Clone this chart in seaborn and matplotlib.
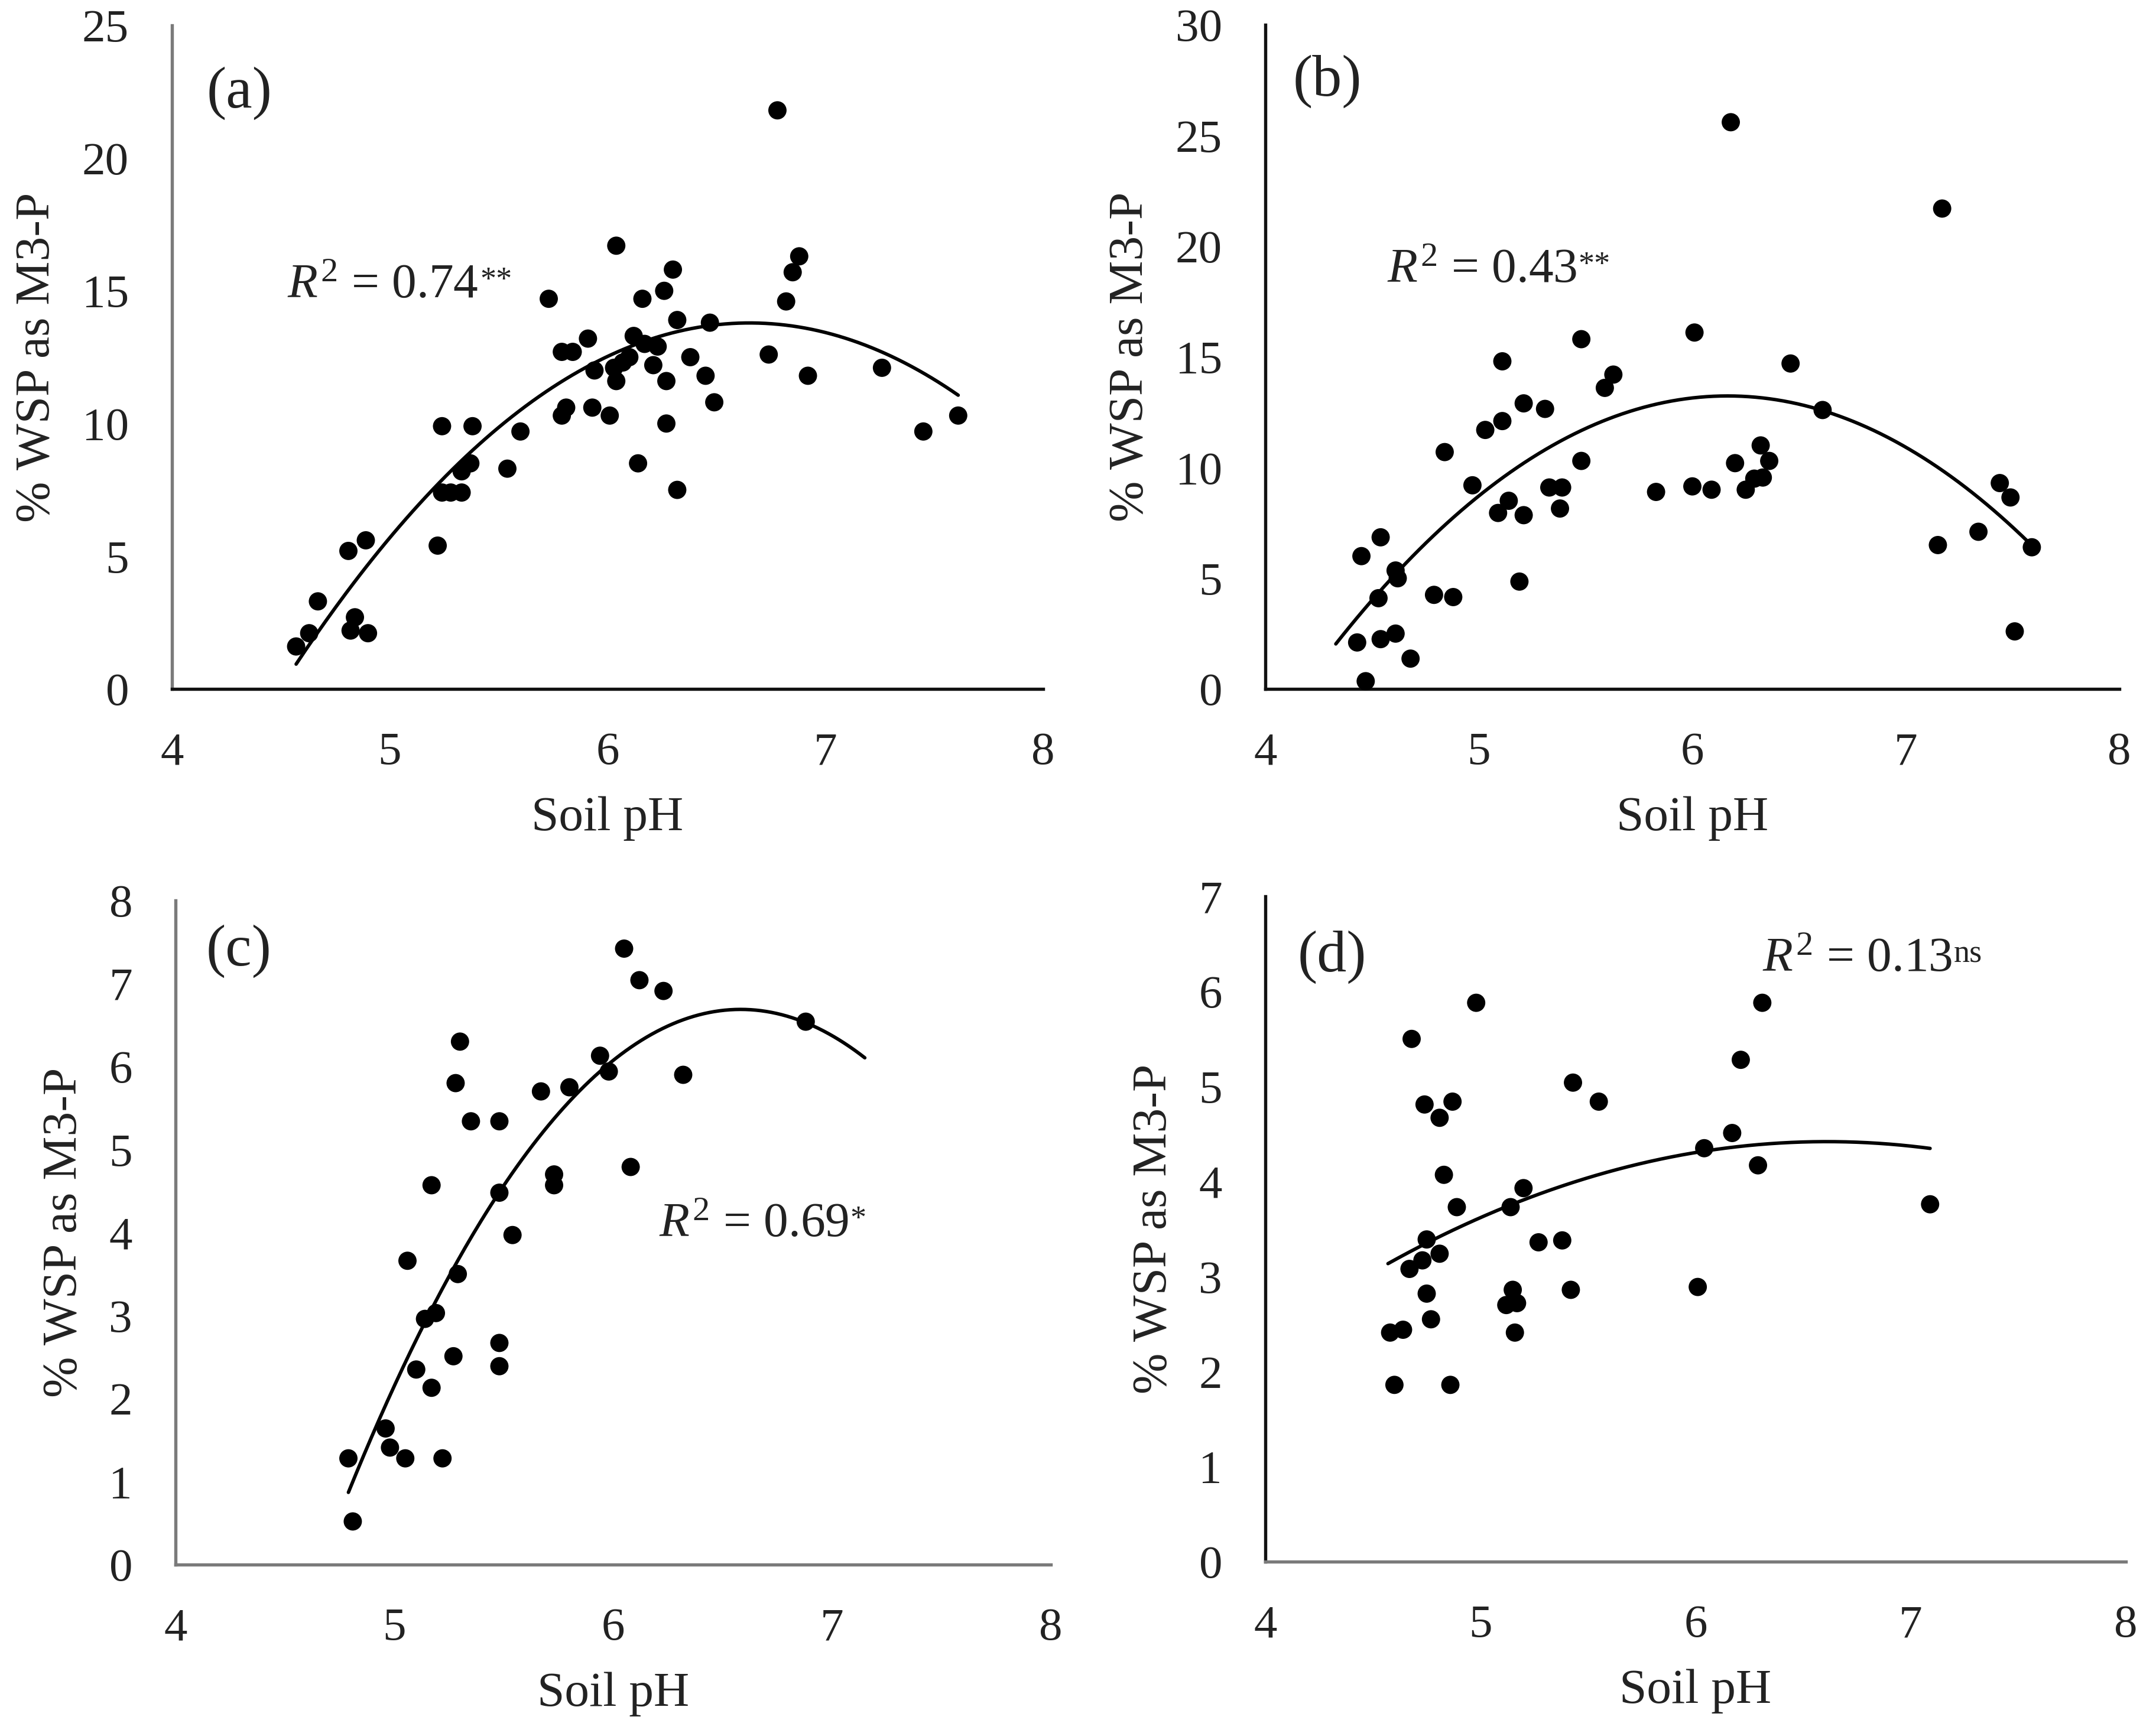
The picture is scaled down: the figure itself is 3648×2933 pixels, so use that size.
import numpy as np
import pandas as pd
import matplotlib
matplotlib.use("Agg")
import matplotlib.pyplot as plt
import seaborn as sns

# ---------------- data ----------------
ph_a = [4.57, 4.63, 4.67, 4.81, 4.89, 4.84, 4.82, 4.90, 5.22, 5.24, 5.38, 5.60,
        5.54, 5.37, 5.33, 5.24, 5.28, 5.33, 5.73, 5.79, 5.84, 5.91, 5.79, 5.81,
        5.93, 6.01, 5.94, 6.04, 6.03, 6.04, 6.07, 6.10, 6.12, 6.16, 6.17, 6.23,
        6.21, 6.26, 6.30, 6.32, 6.27, 6.27, 6.14, 6.32, 6.38, 6.45, 6.47, 6.49,
        6.78, 6.74, 6.82, 6.85, 6.88, 6.92, 7.26, 7.45, 7.61]
wsp_a = [1.6, 2.1, 3.3, 5.2, 5.6, 2.7, 2.2, 2.1, 5.4, 9.9, 9.9, 9.7,
         8.3, 8.5, 8.2, 7.4, 7.4, 7.4, 14.7, 12.7, 12.7, 13.2, 10.3, 10.6,
         10.6, 10.3, 12.0, 16.7, 12.1, 11.6, 12.3, 12.5, 13.3, 14.7, 13.0, 12.9,
         12.2, 15.0, 15.8, 13.9, 11.6, 10.0, 8.5, 7.5, 12.5, 11.8, 13.8, 10.8,
         21.8, 12.6, 14.6, 15.7, 16.3, 11.8, 12.1, 9.7, 10.3]

ph_b = [4.47, 4.43, 4.54, 4.61, 4.68, 4.53, 4.45, 4.54, 4.61, 4.62, 4.79, 4.88,
        4.84, 4.97, 5.03, 5.11, 5.11, 5.14, 5.09, 5.21, 5.21, 5.31, 5.19, 5.33,
        5.39, 5.38, 5.48, 5.48, 5.59, 5.63, 5.83, 6.00, 6.09, 6.01, 6.18, 6.20,
        6.25, 6.29, 6.33, 6.32, 6.36, 6.46, 6.61, 7.15, 7.17, 7.34, 7.44, 7.49,
        7.51, 7.59]
wsp_b = [0.35, 2.1, 2.25, 2.5, 1.37, 4.1, 6.0, 6.85, 5.35, 5.0, 4.25, 4.15,
         10.7, 9.2, 11.7, 12.1, 14.8, 8.5, 7.95, 7.85, 12.9, 12.65, 4.85, 9.1,
         9.1, 8.15, 10.3, 15.8, 13.6, 14.2, 8.9, 9.15, 9.0, 16.1, 25.6, 10.2,
         9.0, 9.5, 9.55, 11.0, 10.3, 14.7, 12.6, 6.5, 21.7, 7.1, 9.3, 8.65,
         2.6, 6.4]

ph_c = [4.81, 4.79, 4.96, 4.98, 5.05, 5.22, 5.17, 5.10, 5.27, 5.14, 5.19, 5.29,
        5.06, 5.17, 5.48, 5.48, 5.48, 5.54, 5.28, 5.30, 5.35, 5.48, 5.73, 5.73,
        5.67, 5.80, 5.94, 5.98, 6.05, 6.08, 6.12, 6.23, 6.32, 6.88]
wsp_c = [0.52, 1.28, 1.64, 1.41, 1.28, 1.28, 2.13, 2.35, 2.51, 2.96, 3.03, 3.50,
         3.66, 4.57, 2.67, 2.39, 4.48, 3.97, 5.80, 6.30, 5.34, 5.34, 4.70, 4.57,
         5.70, 5.75, 6.13, 5.94, 7.42, 4.79, 7.04, 6.91, 5.90, 6.54]

ph_d = [4.60, 4.86, 4.58, 4.64, 4.77, 4.75, 4.67, 4.73, 4.75, 4.81, 4.89, 4.83,
        4.68, 4.74, 4.87, 4.81, 4.98, 5.14, 5.20, 5.27, 5.38, 5.15, 5.12, 5.17,
        5.16, 5.42, 5.43, 5.55, 6.01, 6.04, 6.17, 6.21, 6.31, 6.29, 7.09]
wsp_d = [1.86, 1.86, 2.41, 2.44, 2.55, 2.82, 3.08, 3.17, 3.39, 3.24, 3.73, 4.07,
         5.50, 4.81, 4.84, 4.67, 5.88, 3.73, 3.93, 3.36, 3.38, 2.86, 2.70, 2.72,
         2.41, 2.86, 5.04, 4.84, 2.89, 4.35, 4.51, 5.28, 5.88, 4.17, 3.76]

# points
curve_a_ph = [4.57, 5.20, 5.65, 6.65, 7.61]
curve_a_wsp = [0.89, 7.54, 10.95, 13.64, 11.12]
curve_b_ph = [4.33, 4.98, 6.18, 6.62, 7.59]
curve_b_wsp = [1.78, 9.04, 12.99, 12.47, 6.58]
curve_c_ph = [4.79, 5.14, 5.48, 5.98, 6.59, 7.15]
curve_c_wsp = [0.85, 2.96, 4.47, 6.03, 6.68, 6.11]
curve_d_ph = [4.57, 5.16, 6.04, 6.70, 7.09]
curve_d_wsp = [3.15, 3.74, 4.34, 4.42, 4.34]

panel_labels = ["(a)", "(b)", "(c)", "(d)"]
r2_values = ["0.74", "0.43", "0.69", "0.13"]
r2_signif = ["**", "**", "*", "ns"]
y_max = [25, 30, 8, 7]
y_step = [5, 5, 1, 1]
x_ticks = [4, 5, 6, 7, 8]
x_label = "Soil pH"
y_label = "% WSP as M3-P"

# ---------------- style ----------------
sns.set_theme(style="white")
plt.rcParams["font.family"] = ["Liberation Serif", "DejaVu Serif"]
plt.rcParams["mathtext.fontset"] = "custom"
plt.rcParams["mathtext.rm"] = "Liberation Serif"
plt.rcParams["mathtext.it"] = "Liberation Serif:italic"
plt.rcParams["mathtext.bf"] = "Liberation Serif:bold"

fig = plt.figure(figsize=(12.16, 9.7767), dpi=300)

W, H = 3648, 2933
boxes = [(291, 1765, 43, 1166), (2141, 3586, 42, 1166),
         (297, 1778, 1524, 2648), (2141, 3597, 1517, 2643)]
label_pos = [(4.16, 21.9), (4.13, 26.8), (4.14, 7.22), (4.15, 6.21)]
r2_pos = [(4.53, 14.76), (4.57, 18.4), (6.21, 3.96), (6.31, 6.22)]
spine_cols = [("#7a7a7a", "#111111"), ("#111111", "#111111"),
              ("#7a7a7a", "#7a7a7a"), ("#111111", "#7a7a7a")]

data = [(ph_a, wsp_a, curve_a_ph, curve_a_wsp),
        (ph_b, wsp_b, curve_b_ph, curve_b_wsp),
        (ph_c, wsp_c, curve_c_ph, curve_c_wsp),
        (ph_d, wsp_d, curve_d_ph, curve_d_wsp)]

txt_col = "#222222"
for i, (ph, wsp, cph, cwsp) in enumerate(data):
    x0, x1, y0, y1 = boxes[i]
    ax = fig.add_axes([x0 / W, (H - y1) / H, (x1 - x0) / W, (y1 - y0) / H])
    df = pd.DataFrame({"ph": ph, "wsp": wsp})
    coef = np.polyfit(cph, cwsp, 2)
    xx = np.linspace(min(cph), max(cph), 200)
    cdf = pd.DataFrame({"ph": xx, "wsp": np.polyval(coef, xx)})
    sns.lineplot(data=cdf, x="ph", y="wsp", ax=ax, color="black", lw=1.4,
                 estimator=None, sort=True, zorder=2)
    sns.scatterplot(data=df, x="ph", y="wsp", ax=ax, color="black", s=55,
                    edgecolor="none", linewidth=0, zorder=3, clip_on=False)
    ax.set_xlim(4, 8)
    ax.set_ylim(0, y_max[i])
    ax.set_xticks(x_ticks)
    ax.set_yticks(np.arange(0, y_max[i] + 1, y_step[i]))
    ax.tick_params(length=0, pad=17.5, labelsize=19, colors=txt_col)
    for s in ("top", "right"):
        ax.spines[s].set_visible(False)
    ax.spines["left"].set_color(spine_cols[i][0])
    ax.spines["bottom"].set_color(spine_cols[i][1])
    ax.spines["left"].set_linewidth(1.3)
    ax.spines["bottom"].set_linewidth(1.3)
    ax.set_xlabel(x_label, fontsize=20, labelpad=9, color=txt_col)
    ax.set_ylabel(y_label, fontsize=20, labelpad=9, color=txt_col)
    ax.text(label_pos[i][0], label_pos[i][1], panel_labels[i], fontsize=24,
            ha="left", va="baseline", color=txt_col)
    t = ax.text(r2_pos[i][0], r2_pos[i][1],
                r"$\mathit{R}^{2}$ = " + r2_values[i], fontsize=20,
                ha="left", va="baseline", color=txt_col)
    ax.annotate(r2_signif[i], xy=(1.0, 0.93), xycoords=t,
                xytext=(0.6, 0), textcoords="offset points",
                fontsize=13, ha="left", va="top", color=txt_col)
    ax.set_facecolor("white")

fig.savefig("out.png", dpi=300, facecolor="white")
